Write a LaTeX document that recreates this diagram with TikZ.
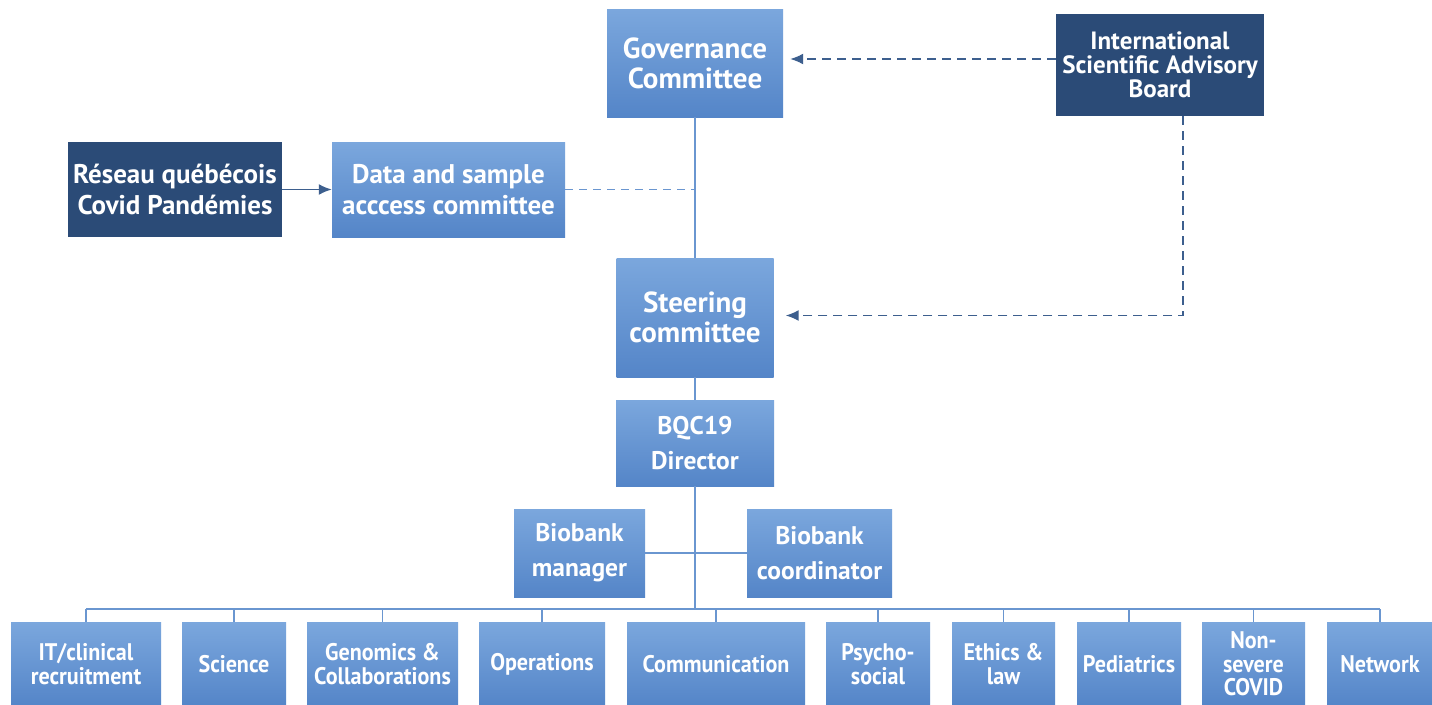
\documentclass[tikz,border=0pt]{standalone}
\usepackage{fontspec}
\setmainfont{PT Sans}
\newfontfamily\narrowsans[FakeStretch=0.92]{PT Sans}
\usetikzlibrary{arrows.meta}

\definecolor{boxtop}{HTML}{7BA7DD}
\definecolor{boxbot}{HTML}{5485C8}
\definecolor{boxdark}{HTML}{2B4B77}
\definecolor{linelight}{HTML}{6A96D0}
\definecolor{linedark}{HTML}{3D5F8E}

\tikzset{
  x=1pt, y=-1pt,
  unit/.style={rectangle, inner sep=0pt, align=center, text=white,
    top color=boxtop, bottom color=boxbot},
  darkunit/.style={rectangle, inner sep=0pt, align=center, text=white,
    fill=boxdark},
  bigtext/.style={font=\fontsize{29}{30}\selectfont\bfseries},
  midtext/.style={font=\fontsize{27}{31}\selectfont\bfseries},
  smalltext/.style={font=\fontsize{25.5}{35}\selectfont\bfseries},
  boardtext/.style={font=\fontsize{25}{24}\selectfont\bfseries},
  team/.style={rectangle, inner sep=0pt, align=center, text=white,
    top color=boxtop, bottom color=boxbot,
    minimum height=84pt,
    font=\fontsize{24}{23.5}\selectfont\narrowsans\bfseries},
  link/.style={draw=linelight, line width=1.6pt},
  softdash/.style={draw=linelight, line width=1.8pt, dash pattern=on 8pt off 6pt},
  advise/.style={draw=linedark, line width=1.6pt, dash pattern=on 9pt off 6pt,
    -{Latex[length=13pt,width=11pt]}},
  feed/.style={draw=linedark, line width=1.8pt, -{Latex[length=13pt,width=11pt]}},
}

\begin{document}
\begin{tikzpicture}
\clip (0,0) rectangle (1432,704);
\fill[white] (0,0) rectangle (1432,704);

% upper governance structure
\node[unit, bigtext, minimum width=176pt, minimum height=108pt] (gov) at (695,63) {Governance\\Committee};
\node[darkunit, boardtext, minimum width=208pt, minimum height=102pt] (isab) at (1160,65) {International\\Scientific Advisory\\Board};
\node[darkunit, midtext, minimum width=214pt, minimum height=95pt] (reseau) at (175,189.5) {Réseau québécois\\Covid Pandémies};
\node[unit, midtext, minimum width=233pt, minimum height=95pt] (data) at (448.5,189.5) {Data and sample\\acccess committee};
\node[unit, bigtext, minimum width=157pt, minimum height=119pt] (steer) at (695,317.5) {Steering\\committee};
\node[unit, smalltext, minimum width=158pt, minimum height=86pt] (dir) at (695,443) {BQC19\\Director};
\node[unit, smalltext, minimum width=131pt, minimum height=88pt] (mgr) at (579.5,553) {Biobank\\manager};
\node[unit, smalltext, minimum width=145pt, minimum height=88pt] (coord) at (819.5,553) {Biobank\\coordinator};

% working groups
\node[team, minimum width=150pt] (t1) at (86,664) {IT/clinical\\recruitment};
\node[team, minimum width=104pt] (t2) at (234,664) {Science};
\node[team, minimum width=151pt] (t3) at (382.5,664) {Genomics \&\\Collaborations};
\node[team, minimum width=126pt] (t4) at (542,664) {Operations};
\node[team, minimum width=178pt] (t5) at (716,664) {Communication};
\node[team, minimum width=104pt] (t6) at (878,664) {Psycho-\\social};
\node[team, minimum width=103pt] (t7) at (1003.5,664) {Ethics \&\\law};
\node[team, minimum width=104pt] (t8) at (1129,664) {Pediatrics};
\node[team, minimum width=103pt] (t9) at (1253.5,664) {Non-\\severe\\COVID};
\node[team, minimum width=106pt] (t10) at (1380,664) {Network};

% reporting lines
\draw[link] (gov.south) -- (steer.north);
\draw[softdash] (data.east) -- (data.east -| gov.south);
\draw[feed] (reseau.east) -- (data.west);
\draw[advise] ([yshift=4pt]isab.west |- gov.east) -- ([xshift=7pt,yshift=4pt]gov.east);
\draw[advise] ([xshift=23pt]isab.south) |- ([xshift=12pt,yshift=2pt]steer.east);
\draw[link] (steer.south) -- (dir.north);
\draw[link] (mgr.east) -- (coord.west);

\coordinate (bar) at (695,609);
\draw[link] (dir.south) -- (bar);
\draw[link] (t1.north |- bar) -- (t10.north |- bar);
\foreach \t in {t1,t2,t3,t4,t5,t6,t7,t8,t9,t10}
  \draw[link] (\t.north) -- (\t.north |- bar);
\end{tikzpicture}
\end{document}
